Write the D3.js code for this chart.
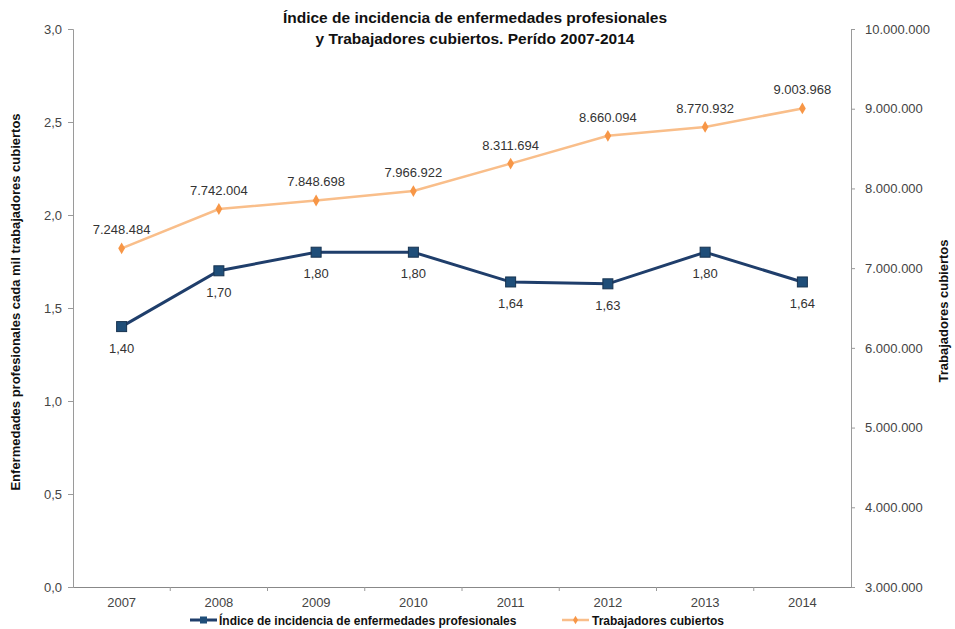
<!DOCTYPE html>
<html>
<head>
<meta charset="utf-8">
<script src="https://cdn.jsdelivr.net/npm/d3@7"></script>
<style>
  body { margin: 0; background: #fff; }
  svg text { font-family: "Liberation Sans", Arial, sans-serif; }
</style>
</head>
<body>
<div id="chart"></div>
<script>
// datos
var years = ["2007", "2008", "2009", "2010", "2011", "2012", "2013", "2014"];
var indice = [1.40, 1.70, 1.80, 1.80, 1.64, 1.63, 1.80, 1.64];
var trabajadores = [7248484, 7742004, 7848698, 7966922, 8311694, 8660094, 8770932, 9003968];
var leftTicks = [0, 0.5, 1.0, 1.5, 2.0, 2.5, 3.0];
var rightTicks = [3000000, 4000000, 5000000, 6000000, 7000000, 8000000, 9000000, 10000000];

var W = 955, H = 629;
var m = { left: 73, right: 104, top: 29, bottom: 42 };
var svg = d3.select("#chart").append("svg").attr("width", W).attr("height", H);

var x = d3.scaleBand().domain(years).range([m.left, W - m.right]);
var yL = d3.scaleLinear().domain([0, 3]).range([H - m.bottom, m.top]);
var yR = d3.scaleLinear().domain([3000000, 10000000]).range([H - m.bottom, m.top]);

var fmtL = function (d) { return d3.format(".1f")(d).replace(".", ","); };
var fmtL2 = function (d) { return d3.format(".2f")(d).replace(".", ","); };
var fmtR = function (d) { return d3.format(",")(d).replace(/,/g, "."); };

var axisColor = "#9a9a9a";

// eje izquierdo
var gL = svg.append("g").attr("transform", "translate(" + m.left + ",0)")
  .call(d3.axisLeft(yL).tickValues(leftTicks).tickFormat(fmtL).tickSize(5).tickPadding(6));
// eje derecho
var gR = svg.append("g").attr("transform", "translate(" + (W - m.right) + ",0)")
  .call(d3.axisRight(yR).tickValues(rightTicks).tickFormat(fmtR).tickSize(4).tickPadding(10));
// eje x (marcas entre categorías)
var gX = svg.append("g").attr("transform", "translate(0," + (H - m.bottom) + ")")
  .call(d3.axisBottom(x).tickSize(0).tickPadding(11));
gX.selectAll(".tick-sep").data(years.slice(1)).enter().append("line")
  .attr("x1", function (d) { return x(d); }).attr("x2", function (d) { return x(d); })
  .attr("y1", 0).attr("y2", 4).attr("stroke", axisColor);

[gL, gR, gX].forEach(function (g) {
  g.select(".domain").attr("stroke", axisColor);
  g.selectAll(".tick line").attr("stroke", axisColor);
  g.selectAll("text").attr("font-size", 13).attr("fill", "#444");
});
gX.select(".domain").attr("stroke", "#888");

var cx = function (d, i) { return x(years[i]) + x.bandwidth() / 2; };

// serie trabajadores
var lineR = d3.line().x(cx).y(function (d) { return yR(d); });
svg.append("path").datum(trabajadores).attr("d", lineR)
  .attr("fill", "none").attr("stroke", "#F9BE8A").attr("stroke-width", 2.5);
svg.selectAll(".dia").data(trabajadores).enter().append("path")
  .attr("d", d3.symbol().type(d3.symbolDiamond).size(40))
  .attr("transform", function (d, i) { return "translate(" + cx(d, i) + "," + yR(d) + ")"; })
  .attr("fill", "#F79646");
svg.selectAll(".labR").data(trabajadores).enter().append("text")
  .attr("x", cx).attr("y", function (d) { return yR(d) - 14; })
  .attr("text-anchor", "middle").attr("font-size", 13).attr("fill", "#333")
  .text(fmtR);

// serie índice
var lineL = d3.line().x(cx).y(function (d) { return yL(d); });
svg.append("path").datum(indice).attr("d", lineL)
  .attr("fill", "none").attr("stroke", "#1F3E6B").attr("stroke-width", 3);
svg.selectAll(".sq").data(indice).enter().append("rect")
  .attr("x", function (d, i) { return cx(d, i) - 5; }).attr("y", function (d) { return yL(d) - 5; })
  .attr("width", 10).attr("height", 10)
  .attr("fill", "#1F4E79").attr("stroke", "#17324f").attr("stroke-width", 1);
svg.selectAll(".labL").data(indice).enter().append("text")
  .attr("x", cx).attr("y", function (d) { return yL(d) + 26; })
  .attr("text-anchor", "middle").attr("font-size", 13).attr("fill", "#333")
  .text(fmtL2);

// título
var title = svg.append("text").attr("x", 475).attr("text-anchor", "middle")
  .attr("font-size", 15.5).attr("font-weight", "bold").attr("fill", "#111");
title.append("tspan").attr("x", 475).attr("y", 23).text("Índice de incidencia de enfermedades profesionales");
title.append("tspan").attr("x", 475).attr("y", 44).text("y Trabajadores cubiertos. Perído 2007-2014");

// títulos de ejes
svg.append("text").attr("transform", "translate(20," + 302 + ") rotate(-90)")
  .attr("text-anchor", "middle").attr("font-size", 13).attr("font-weight", "bold").attr("fill", "#111")
  .text("Enfermedades profesionales  cada mil trabajadores cubiertos");
svg.append("text").attr("transform", "translate(948," + 311 + ") rotate(-90)")
  .attr("text-anchor", "middle").attr("font-size", 13).attr("font-weight", "bold").attr("fill", "#111")
  .text("Trabajadores cubiertos");

// leyenda
var lg = svg.append("g").attr("transform", "translate(0,620)");
lg.append("line").attr("x1", 190).attr("x2", 217).attr("y1", 0).attr("y2", 0)
  .attr("stroke", "#1F3E6B").attr("stroke-width", 3);
lg.append("rect").attr("x", 200).attr("y", -3.5).attr("width", 7).attr("height", 7).attr("fill", "#1F4E79");
lg.append("text").attr("x", 219).attr("y", 4.5).attr("font-size", 12).attr("font-weight", "bold").attr("fill", "#111")
  .text("Índice de incidencia de enfermedades profesionales");
lg.append("line").attr("x1", 562).attr("x2", 589).attr("y1", 0).attr("y2", 0)
  .attr("stroke", "#F9BE8A").attr("stroke-width", 2.5);
lg.append("path").attr("d", d3.symbol().type(d3.symbolDiamond).size(22)).attr("transform", "translate(575.5,0)")
  .attr("fill", "#F79646");
lg.append("text").attr("x", 592).attr("y", 4.5).attr("font-size", 12).attr("font-weight", "bold").attr("fill", "#111")
  .text("Trabajadores cubiertos");
</script>
</body>
</html>
